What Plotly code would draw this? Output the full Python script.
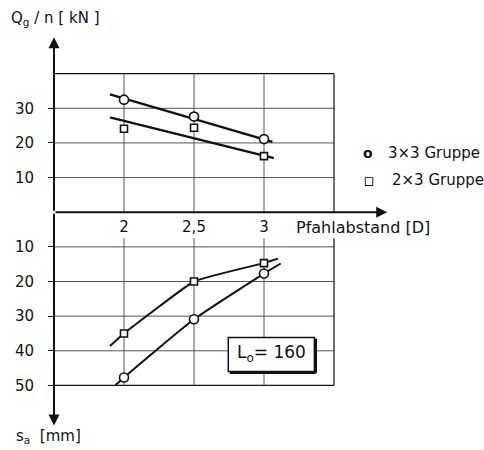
import numpy as np
import plotly.graph_objects as go

# ---------------- data ----------------
x_pts = [2, 2.5, 3]
x_ticktext = ["2", "2,5", "3"]

q_3x3 = [32.5, 27.6, 21.1]     # Q_g/n [kN], 3x3 Gruppe
q_2x3 = [24.1, 24.4, 16.2]     # Q_g/n [kN], 2x3 Gruppe
s_3x3 = [47.7, 30.9, 17.7]     # s_a [mm], 3x3 Gruppe
s_2x3 = [35.0, 20.0, 14.7]     # s_a [mm], 2x3 Gruppe

# trend lines (upper part)
q_3x3_fit_x = [1.9, 3.06]
q_3x3_fit_y = [34.0, 20.3]
q_2x3_fit_x = [1.9, 3.07]
q_2x3_fit_y = [27.4, 15.6]

# curves (lower part)
s_3x3_curve_x = [1.94, 2, 2.5, 3, 3.12]
s_3x3_curve_y = [49.9, 47.7, 30.9, 17.7, 14.8]
s_2x3_curve_x = [1.9, 2, 2.5, 3]
s_2x3_curve_y = [38.6, 35.0, 20.0, 14.7]
s_2x3_ext_x = [3.03, 3.1]
s_2x3_ext_y = [14.3, 13.4]

legend_names = ["3×3 Gruppe", "2×3 Gruppe"]

q_ticks = [10, 20, 30]
s_ticks = [10, 20, 30, 40, 50]
q_grid = [10, 20, 30, 40]
x_grid = [2, 2.5, 3, 3.5]

FONT = "DejaVu Sans"
BLACK = "#111"
GRID = "#555"

W, H = 484, 450
ML, MR, MT, MB = 54, 94, 39, 23
pw, ph = W - ML - MR, H - MT - MB

def px(xp):
    return (xp - ML) / pw

def py(yp_from_top):
    return (H - yp_from_top - MB) / ph

fig = go.Figure()

def add_line(x, y, shape="linear", width=2.2, smoothing=1.0):
    fig.add_trace(go.Scatter(x=x, y=y, mode="lines",
                             line=dict(color=BLACK, width=width, shape=shape, smoothing=smoothing),
                             showlegend=False, hoverinfo="skip"))

add_line(q_3x3_fit_x, q_3x3_fit_y, width=2.4)
add_line(q_2x3_fit_x, q_2x3_fit_y, width=2.4)
add_line(s_3x3_curve_x, list(-np.array(s_3x3_curve_y)), shape="spline", width=2.0, smoothing=0.5)
add_line(s_2x3_curve_x, list(-np.array(s_2x3_curve_y)), shape="spline", width=2.0, smoothing=0.3)
add_line(s_2x3_ext_x, list(-np.array(s_2x3_ext_y)), width=2.0)

circ = dict(symbol="circle", size=9, color="white", line=dict(color=BLACK, width=1.6))
sq = dict(symbol="square", size=7, color="white", line=dict(color=BLACK, width=1.6))

fig.add_trace(go.Scatter(x=x_pts, y=q_3x3, mode="markers", marker=circ, showlegend=False))
fig.add_trace(go.Scatter(x=x_pts, y=q_2x3, mode="markers", marker=sq, showlegend=False))
fig.add_trace(go.Scatter(x=x_pts, y=list(-np.array(s_3x3)), mode="markers", marker=circ, showlegend=False))
fig.add_trace(go.Scatter(x=x_pts, y=list(-np.array(s_2x3)), mode="markers", marker=sq, showlegend=False))

shapes = []
x0, x1 = 1.5, 3.5
# upper grid
for v in q_grid:
    shapes.append(dict(type="line", xref="x", yref="y", x0=x0, x1=x1, y0=v, y1=v,
                       line=dict(color=BLACK if v == 40 else GRID, width=1.2 if v == 40 else 1), layer="below"))
for xv in x_grid:
    shapes.append(dict(type="line", xref="x", yref="y", x0=xv, x1=xv, y0=0, y1=40,
                       line=dict(color=BLACK if xv == 3.5 else GRID, width=1.2 if xv == 3.5 else 1), layer="below"))
# lower grid
for v in s_ticks:
    shapes.append(dict(type="line", xref="x", yref="y", x0=x0, x1=x1, y0=-v, y1=-v,
                       line=dict(color=BLACK if v == 50 else GRID, width=1.2 if v == 50 else 1), layer="below"))
for xv in x_grid:
    shapes.append(dict(type="line", xref="x", yref="y", x0=xv, x1=xv, y0=-7.5, y1=-50,
                       line=dict(color=BLACK if xv == 3.5 else GRID, width=1.2 if xv == 3.5 else 1), layer="below"))

# L_o box with shadow
bx0, bx1, by0, by1 = 2.745, 3.36, -36.2, -46.0
shapes.append(dict(type="rect", xref="x", yref="y", x0=bx0, x1=bx1, y0=by0, y1=by1,
                   fillcolor="white", line=dict(color=BLACK, width=1.5), layer="above"))
shapes.append(dict(type="line", xref="x", yref="y", x0=bx0 + 0.01, x1=bx1 + 0.01, y0=by1 - 0.35, y1=by1 - 0.35,
                   line=dict(color=BLACK, width=2.5), layer="above"))
shapes.append(dict(type="line", xref="x", yref="y", x0=bx1 + 0.01, x1=bx1 + 0.01, y0=by0 - 0.3, y1=by1 - 0.35,
                   line=dict(color=BLACK, width=2.5), layer="above"))

annotations = []
arrow = dict(text="", showarrow=True, arrowhead=2, arrowsize=1.1, arrowwidth=2, arrowcolor=BLACK,
             xref="x", yref="y", axref="x", ayref="y", standoff=0, startstandoff=0)
annotations.append(dict(arrow, x=3.88, y=0, ax=1.5, ay=0))
annotations.append(dict(arrow, x=1.5, y=50.5, ax=1.5, ay=0))
annotations.append(dict(arrow, x=1.5, y=-61.6, ax=1.5, ay=0))

def text_ann(text, xp, yp, size=15, xanchor="left"):
    return dict(text=text, x=px(xp), y=py(yp), xref="paper", yref="paper",
                xanchor=xanchor, yanchor="middle", showarrow=False,
                font=dict(family=FONT, size=size, color=BLACK))

annotations.append(dict(text="L<sub>o</sub>= 160", x=(bx0 + bx1) / 2, y=(by0 + by1) / 2 + 0.4, xref="x", yref="y",
                        xanchor="center", yanchor="middle",
                        showarrow=False, font=dict(family=FONT, size=17, color=BLACK)))
annotations.append(text_ann("Pfahlabstand [D]", 294, 227, size=16))
annotations.append(text_ann("Q<sub>g</sub> / n [ kN ]", 9, 19, size=15))
annotations.append(text_ann("s<sub>a</sub>  [mm]", 14, 437, size=15))

# legend (symbol + label)
annotations.append(text_ann("<b>o</b>", 368, 153, size=14, xanchor="center"))
annotations.append(text_ann("▫", 369, 180, size=17, xanchor="center"))
annotations.append(text_ann(legend_names[0], 386, 153, size=15))
annotations.append(text_ann(legend_names[1], 390, 180, size=15))

tickvals = [-v for v in s_ticks] + q_ticks
ticktext = [str(v) for v in s_ticks] + [str(v) for v in q_ticks]

fig.update_layout(
    width=W, height=H,
    margin=dict(l=ML, r=MR, t=MT, b=MB, pad=0, autoexpand=False),
    paper_bgcolor="white", plot_bgcolor="white",
    font=dict(family=FONT, size=15, color=BLACK),
    shapes=shapes, annotations=annotations,
    showlegend=False,
    xaxis=dict(range=[1.5, 3.9], showgrid=False, zeroline=False, showline=False,
               tickvals=x_pts, ticktext=x_ticktext, ticks="", anchor="free",
               position=62 / 112, ticklabelstandoff=4,
               tickfont=dict(family=FONT, size=15, color=BLACK)),
    yaxis=dict(range=[-62, 50], showgrid=False, zeroline=False, showline=False,
               tickvals=tickvals, ticktext=ticktext, ticks="outside", ticklen=5,
               tickcolor=BLACK, tickwidth=1, ticklabelstandoff=11,
               tickfont=dict(family=FONT, size=15, color=BLACK)),
)

fig.write_html("out.html")
